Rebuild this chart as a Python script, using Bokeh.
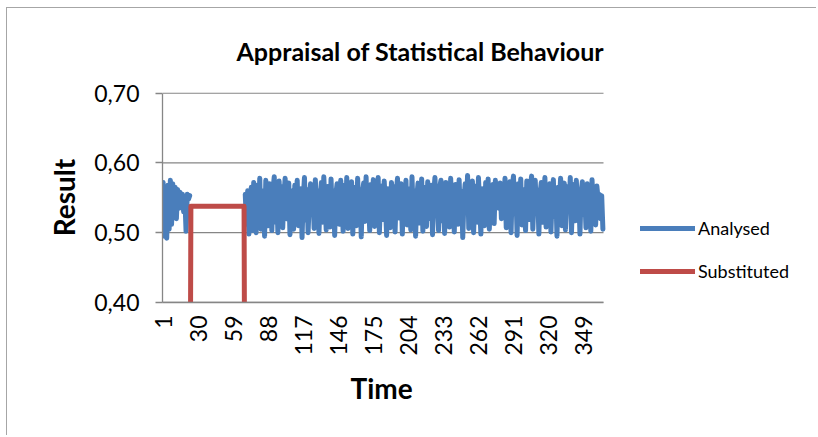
import math
from bokeh.plotting import figure
from bokeh.models import Legend, LegendItem, FixedTicker, CustomJSTickFormatter, Title
from bokeh.embed import file_html
from bokeh.resources import INLINE

# ---------------- data ----------------
chart_title = "Appraisal of Statistical Behaviour"
x_label = "Time"
y_label = "Result"
series_names = ["Analysed", "Substituted"]
x_tick_days = [1, 30, 59, 88, 117, 146, 175, 204, 233, 262, 291, 320, 349]
y_ticks = [0.40, 0.50, 0.60, 0.70]

# Analysed, days 1-23
analysed_part1 = [0.572, 0.495, 0.558, 0.492, 0.568, 0.505, 0.575, 0.512, 0.570, 0.528,
                  0.565, 0.520, 0.562, 0.535, 0.558, 0.542, 0.555, 0.530, 0.550, 0.502,
                  0.555, 0.548, 0.553]
# days 24-68 have no analysed value (substituted instead)
analysed_gap_length = 45
# Analysed, days 69-365
analysed_part2 = [
    0.555, 0.512, 0.560, 0.498, 0.548, 0.565, 0.503, 0.572, 0.540, 0.500, 0.568, 0.525, 0.578, 0.505, 0.545, 0.560, 0.495, 0.575, 0.532, 0.510,
    0.570, 0.548, 0.503, 0.562, 0.580, 0.515, 0.556, 0.500, 0.574, 0.538, 0.566, 0.507, 0.552, 0.578, 0.520, 0.544, 0.571, 0.497, 0.560, 0.530,
    0.505, 0.568, 0.552, 0.575, 0.510, 0.540, 0.563, 0.493, 0.550, 0.579, 0.518, 0.562, 0.500, 0.545, 0.570, 0.528, 0.556, 0.506, 0.576, 0.535,
    0.560, 0.499, 0.548, 0.572, 0.515, 0.580, 0.542, 0.504, 0.566, 0.553, 0.508, 0.577, 0.520, 0.560, 0.496, 0.555, 0.570, 0.531, 0.512, 0.575,
    0.545, 0.502, 0.568, 0.523, 0.579, 0.506, 0.558, 0.540, 0.573, 0.498, 0.550, 0.565, 0.510, 0.578, 0.535, 0.562, 0.494, 0.557, 0.571, 0.516,
    0.580, 0.527, 0.552, 0.503, 0.569, 0.545, 0.576, 0.509, 0.561, 0.532, 0.579, 0.500, 0.548, 0.567, 0.519, 0.574, 0.541, 0.496, 0.563, 0.553,
    0.507, 0.572, 0.530, 0.566, 0.501, 0.558, 0.578, 0.521, 0.545, 0.570, 0.498, 0.556, 0.536, 0.575, 0.511, 0.563, 0.547, 0.504, 0.580, 0.526,
    0.560, 0.495, 0.552, 0.571, 0.514, 0.546, 0.577, 0.502, 0.565, 0.538, 0.509, 0.573, 0.550, 0.520, 0.568, 0.497, 0.557, 0.579, 0.529, 0.543,
    0.503, 0.566, 0.575, 0.517, 0.554, 0.499, 0.572, 0.540, 0.562, 0.508, 0.578, 0.533, 0.549, 0.501, 0.569, 0.555, 0.512, 0.576, 0.524, 0.559,
    0.493, 0.547, 0.570, 0.537, 0.582, 0.506, 0.561, 0.528, 0.574, 0.500, 0.553, 0.567, 0.515, 0.579, 0.541, 0.498, 0.563, 0.550, 0.510, 0.572,
    0.531, 0.577, 0.505, 0.558, 0.545, 0.569, 0.513, 0.575, 0.552, 0.560, 0.535, 0.571, 0.520, 0.564, 0.548, 0.578, 0.507, 0.556, 0.542, 0.573,
    0.500, 0.566, 0.581, 0.527, 0.558, 0.496, 0.570, 0.544, 0.577, 0.511, 0.562, 0.536, 0.503, 0.574, 0.553, 0.519, 0.567, 0.581, 0.505, 0.549,
    0.575, 0.530, 0.561, 0.498, 0.556, 0.572, 0.515, 0.546, 0.579, 0.508, 0.563, 0.539, 0.570, 0.501, 0.552, 0.576, 0.523, 0.558, 0.495, 0.565,
    0.543, 0.578, 0.510, 0.557, 0.571, 0.504, 0.548, 0.566, 0.532, 0.579, 0.500, 0.554, 0.569, 0.517, 0.575, 0.540, 0.561, 0.498, 0.558, 0.573,
    0.526, 0.552, 0.507, 0.570, 0.545, 0.563, 0.502, 0.576, 0.538, 0.556, 0.511, 0.567, 0.549, 0.555, 0.520, 0.553, 0.505,
]
# Substituted, days 23-69 (0 outside the substituted window)
substituted_first_day = 23
substituted_values = [0.0] + [0.538] * 45 + [0.0]

# ---------------- build series ----------------
analysed = analysed_part1 + [math.nan] * analysed_gap_length + analysed_part2
days = list(range(1, len(analysed) + 1))
sub_days = list(range(substituted_first_day, substituted_first_day + len(substituted_values)))
n_days = len(days)

blue = "#4A7EBB"
red = "#BE4B48"
grid_gray = "#868686"
font = "Lato"

# layout: plot area 441 px wide for the 365 days; the frame is extended to the right
# so that the legend (drawn inside the frame) sits beside the plotted area.
W, H = 810, 428
border_l, border_r, border_t, border_b = 155, 12, 84, 134
frame_w = W - border_l - border_r
px_per_day = 441 / n_days
x_end = 0.5 + frame_w / px_per_day

p = figure(width=W, height=H, x_range=(0.5, x_end), y_range=(0.40, 0.7008),
           output_backend="svg", toolbar_location=None,
           min_border_left=border_l, min_border_right=border_r,
           min_border_top=border_t, min_border_bottom=border_b)
p.margin = (7, 0, 0, 6)
p.outline_line_color = None
p.background_fill_color = "white"
p.border_fill_color = "white"
p.styles = {"border-top": "1px solid #a6a6a6", "border-left": "1px solid #a6a6a6"}

# horizontal gridlines limited to the plotted days
p.xgrid.grid_line_color = None
p.ygrid.grid_line_color = None
p.segment(x0=[0.5] * len(y_ticks), y0=y_ticks, x1=[n_days + 0.5] * len(y_ticks), y1=y_ticks,
          line_color=grid_gray, line_width=1.3)

r_an = p.line(days, analysed, line_color=blue, line_width=5, line_join="round", line_cap="round")
r_sub = p.line(sub_days, substituted_values, line_color=red, line_width=5, line_join="round", line_cap="round")

# axes
p.yaxis.ticker = FixedTicker(ticks=y_ticks)
p.xaxis.ticker = FixedTicker(ticks=x_tick_days)
p.yaxis.formatter = CustomJSTickFormatter(code="return tick.toFixed(2).replace('.', ',');")

yax = p.yaxis[0]
xax = p.xaxis[0]
for ax in (xax, yax):
    ax.axis_line_color = grid_gray
    ax.axis_line_width = 1.3
    ax.minor_tick_line_color = None
    ax.major_label_text_font = font
    ax.major_label_text_color = "black"

yax.bounds = (0.40, 0.70)
yax.major_tick_line_color = grid_gray
yax.major_tick_line_width = 1.3
yax.major_tick_out = 7
yax.major_tick_in = 0
yax.major_label_text_font_size = "23px"
yax.major_label_standoff = 16
yax.axis_label = y_label
yax.axis_label_text_font = font
yax.axis_label_text_font_style = "bold"
yax.axis_label_text_color = "black"
yax.axis_label_text_font_size = "28px"
yax.axis_label_standoff = 10

xax.bounds = (0.5, n_days + 0.5)
xax.major_tick_line_color = None
xax.major_tick_out = 0
xax.major_tick_in = 0
xax.major_label_orientation = math.pi / 2
xax.major_label_text_font_size = "23px"
xax.major_label_standoff = 13

# x-axis title, centred under the plotted days (below the tick labels)
p.add_layout(Title(text=x_label, align="left", offset=188, standoff=24, vertical_align="top",
                   text_font=font, text_font_style="bold", text_font_size="28px",
                   text_color="black"), "below")

p.add_layout(Title(text=chart_title, align="left", offset=74, standoff=49, vertical_align="top",
                   text_font=font, text_font_style="bold", text_font_size="25px",
                   text_color="black"), "above")

legend = Legend(items=[LegendItem(label=series_names[0], renderers=[r_an]),
                       LegendItem(label=series_names[1], renderers=[r_sub])],
                location=(478, 20), padding=0, margin=0, spacing=21,
                glyph_width=55, glyph_height=20, label_height=20, label_standoff=3,
                label_text_font=font, label_text_font_size="18px", label_text_color="black",
                border_line_color=None, background_fill_alpha=0)
p.add_layout(legend, "center")

open("out.html", "w").write(file_html(p, INLINE))
